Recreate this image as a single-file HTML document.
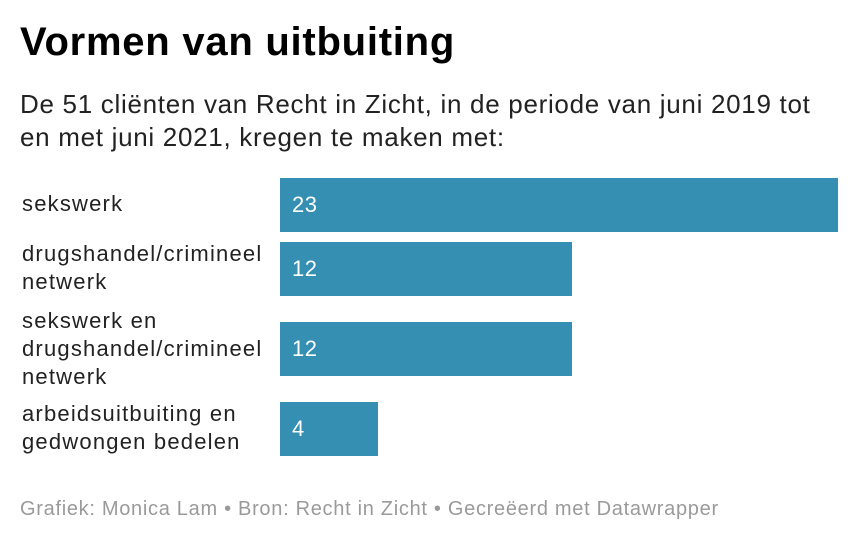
<!DOCTYPE html>
<html><head><meta charset="utf-8"><style>
body{margin:0;width:860px;height:544px;background:#fff;font-family:"Liberation Sans",Arial,sans-serif;position:relative;overflow:hidden;color:#000}
.t{position:absolute;left:20px;top:20px;font-size:40px;font-weight:bold;letter-spacing:0.75px}
.s{position:absolute;left:20px;top:88px;font-size:26px;letter-spacing:0.7px;line-height:33px;color:#222;width:840px}
.l{position:absolute;left:22px;font-size:22px;letter-spacing:1.2px;line-height:28px;color:#222}
.b{position:absolute;left:280px;height:54px;background:#348fb2;color:#fff;font-size:22px;letter-spacing:0.5px;line-height:54px;padding-left:12px;box-sizing:border-box}
.f{position:absolute;left:20px;top:498px;font-size:20px;letter-spacing:0.7px;color:#9a9a9a}
</style></head><body>
<div class="t">Vormen van uitbuiting</div>
<div class="s">De 51 cliënten van Recht in Zicht, in de periode van juni 2019 tot<br>en met juni 2021, kregen te maken met:</div>
<div class="l" style="top:190px">sekswerk</div>
<div class="b" style="top:178px;width:558px">23</div>
<div class="l" style="top:240px">drugshandel/crimineel<br>netwerk</div>
<div class="b" style="top:242px;width:292px">12</div>
<div class="l" style="top:307px">sekswerk en<br>drugshandel/crimineel<br>netwerk</div>
<div class="b" style="top:322px;width:292px">12</div>
<div class="l" style="top:400px">arbeidsuitbuiting en<br>gedwongen bedelen</div>
<div class="b" style="top:402px;width:98px">4</div>
<div class="f">Grafiek: Monica Lam • Bron: Recht in Zicht • Gecreëerd met Datawrapper</div>
</body></html>
